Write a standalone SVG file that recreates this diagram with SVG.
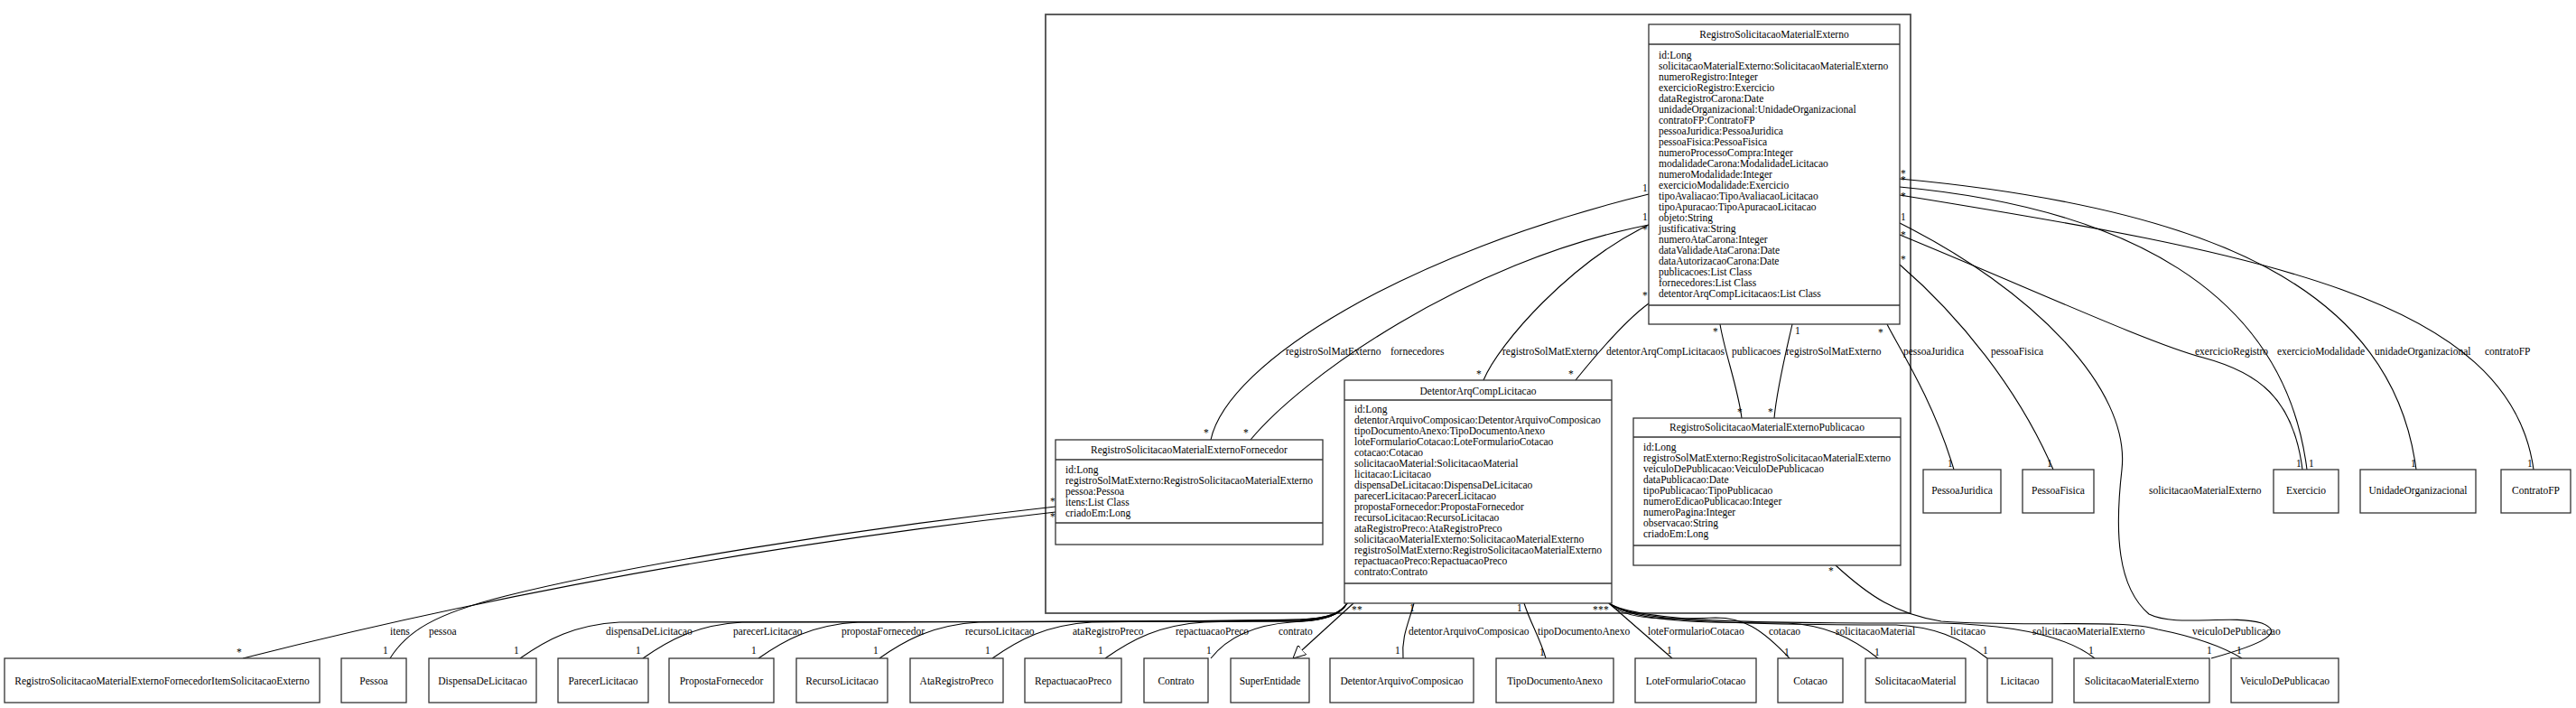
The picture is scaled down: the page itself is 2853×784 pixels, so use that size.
<svg xmlns="http://www.w3.org/2000/svg" width="2853" height="784" viewBox="0 0 2853 784">
<style>
text{font-family:"Liberation Serif","Times New Roman",serif;font-size:11.5px;fill:#000}
.c{text-anchor:middle}
.box{fill:#fff;stroke:#333;stroke-width:1.3}
.sep{stroke:#333;stroke-width:1.3}
.frame{fill:none;stroke:#4d4d4d;stroke-width:1.8}
.e{fill:none;stroke:#000;stroke-width:1.1}
</style>
<defs>
<marker id="gen" viewBox="0 0 14 14" refX="14" refY="7" markerWidth="14" markerHeight="14" markerUnits="userSpaceOnUse" orient="auto"><path d="M0,0 L14,7 L0,14 z" fill="#fff" stroke="#000" stroke-width="1"/></marker>
</defs>
<rect width="2853" height="784" fill="#fff"/>
<g id="package"><rect class="frame" x="1158" y="16" width="958" height="663"/></g>

<g id="connectors">
<!-- Fornecedor - main -->
<path class="e" d="M1341 487 C1360 400 1560 280 1826 215"/>
<text x="1424" y="393">registroSolMatExterno</text>
<text x="1333" y="483">*</text><text x="1819" y="212">1</text>
<path class="e" d="M1385 487 C1440 420 1620 290 1826 249"/>
<text x="1540" y="393">fornecedores</text>
<text x="1377" y="483">*</text><text x="1819" y="258">*</text>
<!-- Detentor - main -->
<path class="e" d="M1643 421 C1660 380 1740 290 1826 249"/>
<text x="1664" y="393">registroSolMatExterno</text>
<text x="1635" y="418">*</text><text x="1819" y="244">1</text>
<path class="e" d="M1745 421 C1770 390 1800 355 1826 336"/>
<text x="1779" y="393">detentorArqCompLicitacaos</text>
<text x="1737" y="418">*</text><text x="1819" y="331">*</text>
<!-- main - Publicacao -->
<path class="e" d="M1905 359 C1910 390 1925 430 1929 463"/>
<text x="1918" y="393">publicacoes</text>
<text x="1897" y="371">*</text><text x="1924" y="460">*</text>
<path class="e" d="M1985 359 C1978 390 1968 430 1965 463"/>
<text x="1978" y="393">registroSolMatExterno</text>
<text x="1988" y="370">1</text><text x="1958" y="460">*</text>
<!-- main right side -->
<path class="e" d="M2104 198 C2450 230 2650 320 2676 520"/>
<text x="2630" y="393">unidadeOrganizacional</text>
<text x="2105" y="196">*</text><text x="2670" y="517">1</text>
<path class="e" d="M2104 207 C2350 230 2530 320 2555 520"/>
<text x="2522" y="393">exercicioModalidade</text>
<text x="2105" y="203">*</text><text x="2557" y="517">1</text>
<path class="e" d="M2104 216 C2500 280 2780 330 2806 520"/>
<text x="2752" y="393">contratoFP</text>
<text x="2105" y="221">*</text><text x="2799" y="517">1</text>
<path class="e" d="M2104 260 C2250 320 2380 380 2440 396 C2500 412 2540 440 2550 520"/>
<text x="2431" y="393">exercicioRegistro</text>
<text x="2105" y="264">*</text><text x="2543" y="517">1</text>
<path class="e" d="M2104 247 C2250 320 2360 430 2350 520 C2342 590 2345 650 2380 680 C2410 695 2470 680 2505 690 C2530 700 2510 712 2449 729"/>
<text x="2380" y="547">solicitacaoMaterialExterno</text>
<text x="2105" y="244">1</text><text x="2444" y="724">1</text>
<path class="e" d="M2104 293 C2170 350 2235 430 2274 520"/>
<text x="2205" y="393">pessoaFisica</text>
<text x="2105" y="291">*</text><text x="2267" y="517">1</text>
<path class="e" d="M2090 359 C2100 380 2140 440 2164 520"/>
<text x="2108" y="393">pessoaJuridica</text>
<text x="2080" y="372">*</text><text x="2157" y="517">1</text>
<!-- Publicacao - Veiculo -->
<path class="e" d="M2033 626 C2070 660 2100 680 2150 688 C2250 695 2350 685 2390 697 C2430 705 2460 715 2483 729"/>
<text x="2428" y="703">veiculoDePublicacao</text>
<text x="2025" y="636">*</text><text x="2477" y="724">1</text>
<!-- Fornecedor - Pessoa / Item -->
<path class="e" d="M269 729 Q700 620 1169 567"/>
<text x="432" y="703">itens</text>
<text x="262" y="726">*</text><text x="1163" y="576">*</text>
<path class="e" d="M432 729 C450 700 480 680 560 660 C700 625 950 585 1169 561"/>
<text x="475" y="703">pessoa</text>
<text x="424" y="724">1</text><text x="1163" y="559">*</text>
<!-- Detentor bottom-left -->
<path class="e" d="M576 729 C606 708 636 692 686 689 L1440 688 C1470 687 1485 680 1492 668"/>
<text x="671" y="703">dispensaDeLicitacao</text><text x="569" y="724">1</text>
<path class="e" d="M712 729 C742 708 772 692 822 689 L1440 688 C1470 687 1485 680 1492 668"/>
<text x="812" y="703">parecerLicitacao</text><text x="704" y="724">1</text>
<path class="e" d="M840 729 C870 708 900 692 950 689 L1440 687 C1470 686 1485 680 1492 668"/>
<text x="932" y="703">propostaFornecedor</text><text x="832" y="724">1</text>
<path class="e" d="M974 729 C1004 708 1034 692 1084 689 L1440 687 C1470 686 1485 680 1492 668"/>
<text x="1069" y="703">recursoLicitacao</text><text x="967" y="724">1</text>
<path class="e" d="M1099 729 C1129 708 1159 692 1209 689 L1440 686 C1470 685 1485 679 1492 668"/>
<text x="1188" y="703">ataRegistroPreco</text><text x="1091" y="724">1</text>
<path class="e" d="M1224 729 C1254 708 1284 692 1334 689 L1440 686 C1470 685 1485 679 1492 668"/>
<text x="1302" y="703">repactuacaoPreco</text><text x="1216" y="724">1</text>
<path class="e" d="M1341 729 C1360 705 1390 692 1430 689 C1460 687 1480 684 1492 668"/>
<text x="1416" y="703">contrato</text><text x="1336" y="724">1</text>
<path class="e" d="M1499 668 L1432 729" marker-end="url(#gen)"/>
<text x="1493" y="666">*</text><text x="1497" y="679">*</text><text x="1503" y="679">*</text>
<!-- Detentor bottom-middle -->
<path class="e" d="M1566 668 C1560 690 1552 705 1554 729"/>
<text x="1560" y="703">detentorArquivoComposicao</text>
<text x="1561" y="677">1</text><text x="1545" y="724">1</text>
<path class="e" d="M1688 668 C1695 690 1705 705 1712 729"/>
<text x="1703" y="703">tipoDocumentoAnexo</text>
<text x="1680" y="677">1</text><text x="1705" y="726">1</text>
<!-- Detentor bottom-right -->
<path class="e" d="M1782 668 L1852 729"/>
<text x="1825" y="703">loteFormularioCotacao</text><text x="1846" y="724">1</text>
<path class="e" d="M1782 668 C1800 688 1850 686 1900 684 C1930 684 1950 695 1982 729"/>
<text x="1959" y="703">cotacao</text><text x="1976" y="726">1</text>
<path class="e" d="M1782 668 C1810 690 1900 690 1980 690 C2020 692 2050 705 2080 729"/>
<text x="2033" y="703">solicitacaoMaterial</text><text x="2076" y="726">1</text>
<path class="e" d="M1782 668 C1810 690 1950 692 2100 692 C2140 694 2170 705 2201 729"/>
<text x="2160" y="703">licitacao</text><text x="2196" y="724">1</text>
<path class="e" d="M1782 668 C1820 692 2000 690 2150 690 C2230 692 2290 705 2320 729"/>
<text x="2251" y="703">solicitacaoMaterialExterno</text><text x="2313" y="724">1</text>
<text x="1767" y="666">*</text><text x="1764" y="679">*</text><text x="1770" y="679">*</text><text x="1776" y="679">*</text>
</g>

<g id="RegistroSolicitacaoMaterialExterno">
<rect class="box" x="1826" y="27" width="278" height="332"/>
<line class="sep" x1="1826" y1="49" x2="2104" y2="49"/>
<line class="sep" x1="1826" y1="338" x2="2104" y2="338"/>
<text class="c" x="1965" y="42">RegistroSolicitacaoMaterialExterno</text>
<text x="1837" y="65"><tspan x="1837">id:Long</tspan><tspan x="1837" dy="12">solicitacaoMaterialExterno:SolicitacaoMaterialExterno</tspan><tspan x="1837" dy="12">numeroRegistro:Integer</tspan><tspan x="1837" dy="12">exercicioRegistro:Exercicio</tspan><tspan x="1837" dy="12">dataRegistroCarona:Date</tspan><tspan x="1837" dy="12">unidadeOrganizacional:UnidadeOrganizacional</tspan><tspan x="1837" dy="12">contratoFP:ContratoFP</tspan><tspan x="1837" dy="12">pessoaJuridica:PessoaJuridica</tspan><tspan x="1837" dy="12">pessoaFisica:PessoaFisica</tspan><tspan x="1837" dy="12">numeroProcessoCompra:Integer</tspan><tspan x="1837" dy="12">modalidadeCarona:ModalidadeLicitacao</tspan><tspan x="1837" dy="12">numeroModalidade:Integer</tspan><tspan x="1837" dy="12">exercicioModalidade:Exercicio</tspan><tspan x="1837" dy="12">tipoAvaliacao:TipoAvaliacaoLicitacao</tspan><tspan x="1837" dy="12">tipoApuracao:TipoApuracaoLicitacao</tspan><tspan x="1837" dy="12">objeto:String</tspan><tspan x="1837" dy="12">justificativa:String</tspan><tspan x="1837" dy="12">numeroAtaCarona:Integer</tspan><tspan x="1837" dy="12">dataValidadeAtaCarona:Date</tspan><tspan x="1837" dy="12">dataAutorizacaoCarona:Date</tspan><tspan x="1837" dy="12">publicacoes:List Class</tspan><tspan x="1837" dy="12">fornecedores:List Class</tspan><tspan x="1837" dy="12">detentorArqCompLicitacaos:List Class</tspan></text>
</g>

<g id="DetentorArqCompLicitacao">
<rect class="box" x="1489" y="421" width="296" height="247"/>
<line class="sep" x1="1489" y1="443" x2="1785" y2="443"/>
<line class="sep" x1="1489" y1="646" x2="1785" y2="646"/>
<text class="c" x="1637" y="437">DetentorArqCompLicitacao</text>
<text x="1500" y="457"><tspan x="1500">id:Long</tspan><tspan x="1500" dy="12">detentorArquivoComposicao:DetentorArquivoComposicao</tspan><tspan x="1500" dy="12">tipoDocumentoAnexo:TipoDocumentoAnexo</tspan><tspan x="1500" dy="12">loteFormularioCotacao:LoteFormularioCotacao</tspan><tspan x="1500" dy="12">cotacao:Cotacao</tspan><tspan x="1500" dy="12">solicitacaoMaterial:SolicitacaoMaterial</tspan><tspan x="1500" dy="12">licitacao:Licitacao</tspan><tspan x="1500" dy="12">dispensaDeLicitacao:DispensaDeLicitacao</tspan><tspan x="1500" dy="12">parecerLicitacao:ParecerLicitacao</tspan><tspan x="1500" dy="12">propostaFornecedor:PropostaFornecedor</tspan><tspan x="1500" dy="12">recursoLicitacao:RecursoLicitacao</tspan><tspan x="1500" dy="12">ataRegistroPreco:AtaRegistroPreco</tspan><tspan x="1500" dy="12">solicitacaoMaterialExterno:SolicitacaoMaterialExterno</tspan><tspan x="1500" dy="12">registroSolMatExterno:RegistroSolicitacaoMaterialExterno</tspan><tspan x="1500" dy="12">repactuacaoPreco:RepactuacaoPreco</tspan><tspan x="1500" dy="12">contrato:Contrato</tspan></text>
</g>

<g id="RegistroSolicitacaoMaterialExternoFornecedor">
<rect class="box" x="1169" y="487" width="296" height="116"/>
<line class="sep" x1="1169" y1="509" x2="1465" y2="509"/>
<line class="sep" x1="1169" y1="579" x2="1465" y2="579"/>
<text class="c" x="1317" y="502">RegistroSolicitacaoMaterialExternoFornecedor</text>
<text x="1180" y="524"><tspan x="1180">id:Long</tspan><tspan x="1180" dy="12">registroSolMatExterno:RegistroSolicitacaoMaterialExterno</tspan><tspan x="1180" dy="12">pessoa:Pessoa</tspan><tspan x="1180" dy="12">itens:List Class</tspan><tspan x="1180" dy="12">criadoEm:Long</tspan></text>
</g>

<g id="RegistroSolicitacaoMaterialExternoPublicacao">
<rect class="box" x="1809" y="463" width="296" height="163"/>
<line class="sep" x1="1809" y1="484" x2="2105" y2="484"/>
<line class="sep" x1="1809" y1="604" x2="2105" y2="604"/>
<text class="c" x="1957" y="477">RegistroSolicitacaoMaterialExternoPublicacao</text>
<text x="1820" y="499"><tspan x="1820">id:Long</tspan><tspan x="1820" dy="12">registroSolMatExterno:RegistroSolicitacaoMaterialExterno</tspan><tspan x="1820" dy="12">veiculoDePublicacao:VeiculoDePublicacao</tspan><tspan x="1820" dy="12">dataPublicacao:Date</tspan><tspan x="1820" dy="12">tipoPublicacao:TipoPublicacao</tspan><tspan x="1820" dy="12">numeroEdicaoPublicacao:Integer</tspan><tspan x="1820" dy="12">numeroPagina:Integer</tspan><tspan x="1820" dy="12">observacao:String</tspan><tspan x="1820" dy="12">criadoEm:Long</tspan></text>
</g>

<g id="PessoaJuridica"><rect class="box" x="2130" y="520" width="86" height="48"/><text class="c" x="2173" y="547">PessoaJuridica</text></g>
<g id="PessoaFisica"><rect class="box" x="2240" y="520" width="79" height="48"/><text class="c" x="2279.5" y="547">PessoaFisica</text></g>
<g id="Exercicio"><rect class="box" x="2518" y="520" width="72" height="48"/><text class="c" x="2554" y="547">Exercicio</text></g>
<g id="UnidadeOrganizacional"><rect class="box" x="2614" y="520" width="128" height="48"/><text class="c" x="2678" y="547">UnidadeOrganizacional</text></g>
<g id="ContratoFP"><rect class="box" x="2770" y="520" width="77" height="48"/><text class="c" x="2808.5" y="547">ContratoFP</text></g>

<g id="RegistroSolicitacaoMaterialExternoFornecedorItemSolicitacaoExterno"><rect class="box" x="5" y="729" width="349" height="49"/><text class="c" x="179.5" y="758">RegistroSolicitacaoMaterialExternoFornecedorItemSolicitacaoExterno</text></g>
<g id="Pessoa"><rect class="box" x="378" y="729" width="72" height="49"/><text class="c" x="414" y="758">Pessoa</text></g>
<g id="DispensaDeLicitacao"><rect class="box" x="475" y="729" width="119" height="49"/><text class="c" x="534.5" y="758">DispensaDeLicitacao</text></g>
<g id="ParecerLicitacao"><rect class="box" x="618" y="729" width="100" height="49"/><text class="c" x="668" y="758">ParecerLicitacao</text></g>
<g id="PropostaFornecedor"><rect class="box" x="741" y="729" width="116" height="49"/><text class="c" x="799" y="758">PropostaFornecedor</text></g>
<g id="RecursoLicitacao"><rect class="box" x="882" y="729" width="101" height="49"/><text class="c" x="932.5" y="758">RecursoLicitacao</text></g>
<g id="AtaRegistroPreco"><rect class="box" x="1008" y="729" width="103" height="49"/><text class="c" x="1059.5" y="758">AtaRegistroPreco</text></g>
<g id="RepactuacaoPreco"><rect class="box" x="1135" y="729" width="107" height="49"/><text class="c" x="1188.5" y="758">RepactuacaoPreco</text></g>
<g id="Contrato"><rect class="box" x="1267" y="729" width="71" height="49"/><text class="c" x="1302.5" y="758">Contrato</text></g>
<g id="SuperEntidade"><rect class="box" x="1363" y="729" width="87" height="49"/><text class="c" x="1406.5" y="758">SuperEntidade</text></g>
<g id="DetentorArquivoComposicao"><rect class="box" x="1473" y="729" width="159" height="49"/><text class="c" x="1552.5" y="758">DetentorArquivoComposicao</text></g>
<g id="TipoDocumentoAnexo"><rect class="box" x="1657" y="729" width="130" height="49"/><text class="c" x="1722" y="758">TipoDocumentoAnexo</text></g>
<g id="LoteFormularioCotacao"><rect class="box" x="1811" y="729" width="134" height="49"/><text class="c" x="1878" y="758">LoteFormularioCotacao</text></g>
<g id="Cotacao"><rect class="box" x="1969" y="729" width="72" height="49"/><text class="c" x="2005" y="758">Cotacao</text></g>
<g id="SolicitacaoMaterial"><rect class="box" x="2066" y="729" width="111" height="49"/><text class="c" x="2121.5" y="758">SolicitacaoMaterial</text></g>
<g id="Licitacao"><rect class="box" x="2201" y="729" width="72" height="49"/><text class="c" x="2237" y="758">Licitacao</text></g>
<g id="SolicitacaoMaterialExterno"><rect class="box" x="2297" y="729" width="150" height="49"/><text class="c" x="2372" y="758">SolicitacaoMaterialExterno</text></g>
<g id="VeiculoDePublicacao"><rect class="box" x="2471" y="729" width="119" height="49"/><text class="c" x="2530.5" y="758">VeiculoDePublicacao</text></g>
</svg>
